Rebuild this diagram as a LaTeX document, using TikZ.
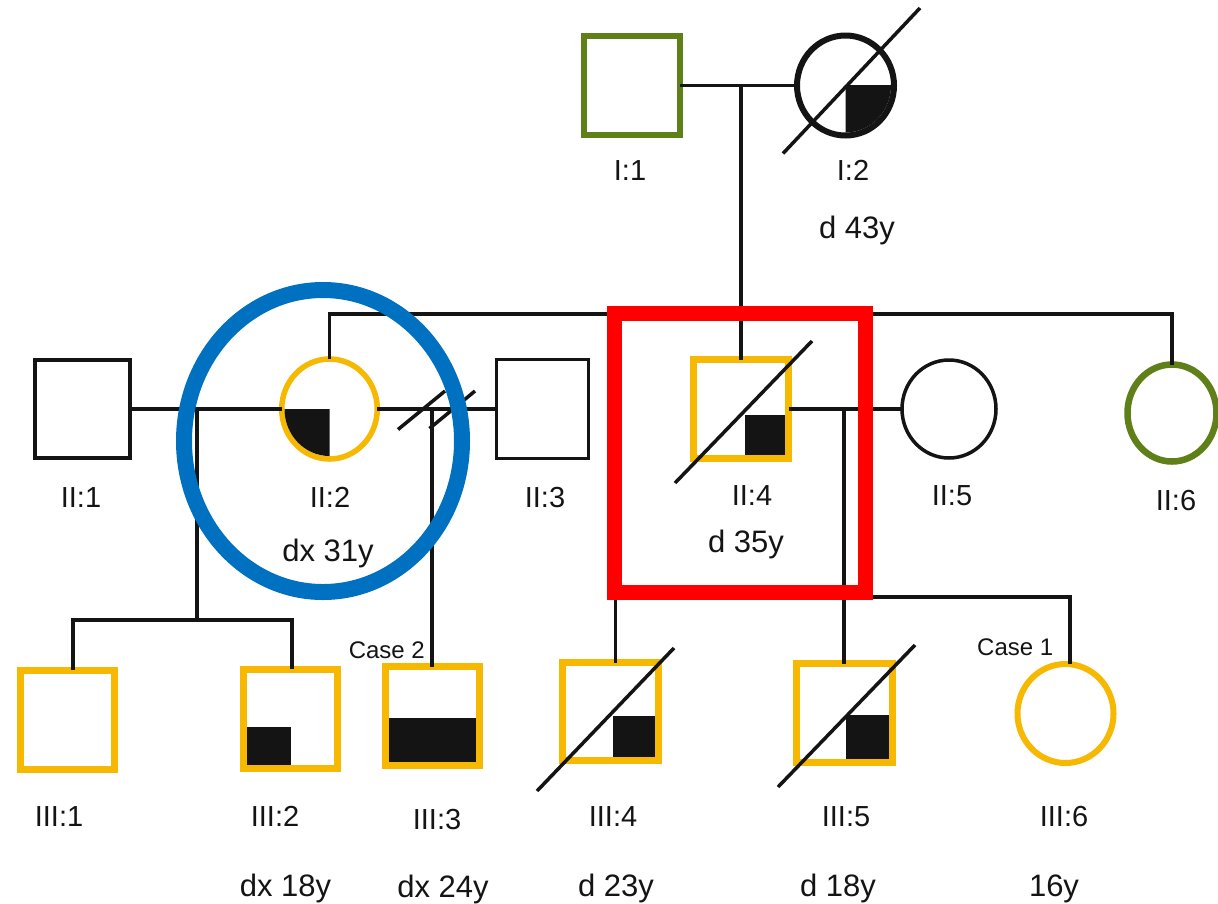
\documentclass[tikz,border=0pt]{standalone}
\usepackage{fontspec}
\setmainfont{Liberation Sans}
\usetikzlibrary{shapes.geometric}
\definecolor{ora}{RGB}{246,184,0}
\definecolor{grn}{RGB}{95,128,25}
\definecolor{blu}{RGB}{0,112,192}
\definecolor{rd}{RGB}{255,0,0}
\definecolor{ink}{RGB}{20,20,20}
\begin{document}
\begin{tikzpicture}[x=1pt,y=-1pt,
  pers/.style={inner sep=0pt, outer sep=0pt},
  male/.style={pers, rectangle},
  fem/.style={pers, ellipse},
  affected/.style={draw=ora, line width=7},
  unaff/.style={draw=ink, line width=3.5},
  kin/.style={draw=grn, line width=6.5},
  conn/.style={draw=ink, line width=3.5},
  dec/.style={draw=ink, line width=3.5},
  lab/.style={font=\fontsize{29}{34}\selectfont, text=ink, anchor=base, inner sep=0pt},
  age/.style={font=\fontsize{31}{36}\selectfont, text=ink, anchor=base, inner sep=0pt},
  casetxt/.style={font=\fontsize{24}{28}\selectfont, text=ink, inner sep=0pt}
]
\fill[white] (0,0) rectangle (1218,903);
\useasboundingbox (0,0) rectangle (1218,903);

% ---------- individuals ----------
\node[male, kin, minimum width=96, minimum height=99] (I1) at (632,85.5) {};
\node[fem, draw=ink, line width=6, minimum width=97, minimum height=100] (I2) at (845.5,85.5) {};

\node[male, unaff, minimum width=95, minimum height=98] (II1) at (82.5,409) {};
\node[fem, affected, line width=5.5, minimum width=95.5, minimum height=100] (II2) at (329.5,409) {};
\node[male, unaff, minimum width=92, minimum height=99] (II3) at (542.5,409) {};
\node[male, affected, minimum width=95, minimum height=99] (II4) at (741,409) {};
\node[fem, unaff, minimum width=94, minimum height=98] (II5) at (949,409) {};
\node[fem, kin, minimum width=89, minimum height=97] (II6) at (1172,413) {};

\node[male, affected, minimum width=94, minimum height=99] (III1) at (67.5,719.5) {};
\node[male, affected, minimum width=94, minimum height=99] (III2) at (290,718.5) {};
\node[male, affected, minimum width=94, minimum height=99] (III3) at (432,716) {};
\node[male, affected, minimum width=96, minimum height=98] (III4) at (610,711.5) {};
\node[male, affected, minimum width=96, minimum height=99] (III5) at (844,713) {};
\node[fem, affected, line width=6, minimum width=96, minimum height=99] (III6) at (1065.5,713.5) {};

% ---------- affected fills ----------
\begin{scope}
  \clip (I2.center) rectangle ++(60,60);
  \fill[ink] (I2.center) ellipse [x radius=45.5, y radius=47];
\end{scope}
\begin{scope}
  \clip (II2.center) rectangle ++(-60,60);
  \fill[ink] (II2.center) ellipse [x radius=45, y radius=47];
\end{scope}
\fill[ink] ([shift={(-3.5,-3.5)}]II4.south east) rectangle ++(-40,-40);
\fill[ink] ([shift={(3.5,-3.5)}]III2.south west) rectangle ++(44,-38);
\fill[ink] ([shift={(3.5,-3.5)}]III3.south west) rectangle ([shift={(-3.5,-48)}]III3.south east);
\fill[ink] ([shift={(-3.5,-3.5)}]III4.south east) rectangle ++(-42,-41);
\fill[ink] ([shift={(-3.5,-3.5)}]III5.south east) rectangle ++(-43,-44);

% ---------- deceased slashes ----------
\draw[dec] ([shift={(-62.5,68)}]I2.center) -- ([shift={(74.5,-77.5)}]I2.center);
\draw[dec] ([shift={(-66,74)}]II4.center) -- ([shift={(71,-68)}]II4.center);
\draw[dec] ([shift={(-73,79.5)}]III4.center) -- ([shift={(64,-63.5)}]III4.center);
\draw[dec] ([shift={(-66,74)}]III5.center) -- ([shift={(71,-68)}]III5.center);

% ---------- generation I ----------
\draw[conn] (I1.east) -- (I2.west);
\coordinate (mI) at (741,85.5);
\coordinate (sibI) at (741,314);
\draw[conn] (mI) -- (II4.north);
\draw[conn] (II2.north) |- (II6.north |- sibI) -- (II6.north);

% ---------- II:1 x II:2 ----------
\draw[conn] (II1.east) -- (II2.west);
\coordinate (m12) at (197,409);
\coordinate (s12) at (197,620);
\coordinate (d1) at ([xshift=5.5]III1.north);
\coordinate (d2) at ([xshift=2]III2.north);
\draw[conn] (m12) -- (s12);
\draw[conn] (d1) |- (s12) -| (d2);

% ---------- II:2 x II:3 (separated) ----------
\draw[conn] (II2.east) -- (II3.west);
\coordinate (m23) at (432,409);
\draw[conn] (m23) -- (III3.north);
\coordinate (sl1a) at (398,429.5);
\coordinate (sl1b) at (445,391);
\coordinate (sl2a) at (429.5,428.5);
\coordinate (sl2b) at (475,391);
\draw[dec] (sl1a) -- (sl1b);
\draw[dec] (sl2a) -- (sl2b);

% ---------- II:4 x II:5 ----------
\draw[conn] (II4.east) -- (II5.west);
\coordinate (m45) at (844,409);
\coordinate (s45) at (844,597);
\coordinate (d4) at ([xshift=5.5]III4.north);
\coordinate (d6) at ([xshift=4.5]III6.north);
\draw[conn] (m45) -- (III5.north);
\draw[conn] (d4) |- (d6 |- s45) -- (d6);

% ---------- labels ----------
\node[lab] (tI1) at (630,180) {I:1};
\node[lab] (tI2) at (853,180) {I:2};
\node[age] (aI2) at (857,238) {d 43y};

\node[lab] (tII1) at (81,507) {II:1};
\node[lab] (tII2) at (330,507) {II:2};
\node[age] (aII2) at (328,561) {dx 31y};
\node[lab] (tII3) at (545,507) {II:3};
\node[lab] (tII4) at (752,505) {II:4};
\node[age] (aII4) at (746,552) {d 35y};
\node[lab] (tII5) at (952,505) {II:5};
\node[lab] (tII6) at (1176,510) {II:6};

\node[lab] (tIII1) at (59,826) {III:1};
\node[lab] (tIII2) at (275,826) {III:2};
\node[lab] (tIII3) at (437,829) {III:3};
\node[lab] (tIII4) at (613,826) {III:4};
\node[lab] (tIII5) at (846,826) {III:5};
\node[lab] (tIII6) at (1064,826) {III:6};

\node[age] (aIII2) at (285.5,896) {dx 18y};
\node[age] (aIII3) at (443,897) {dx 24y};
\node[age] (aIII4) at (616,896) {d 23y};
\node[age] (aIII5) at (838,896) {d 18y};
\node[age] (aIII6) at (1054,896) {16y};

\node[casetxt, anchor=base east] (c2) at (425,658) {Case 2};
\node[casetxt, anchor=base west] (c1) at (977,655) {Case 1};

% ---------- highlights ----------
\node[draw=blu, line width=16, ellipse, inner sep=0pt, minimum width=278, minimum height=302] (hlB) at (323,441) {};
\node[draw=rd, line width=15, rectangle, inner sep=0pt, minimum width=251.5, minimum height=279.5] (hlR) at (739.75,452.75) {};
\end{tikzpicture}
\end{document}
